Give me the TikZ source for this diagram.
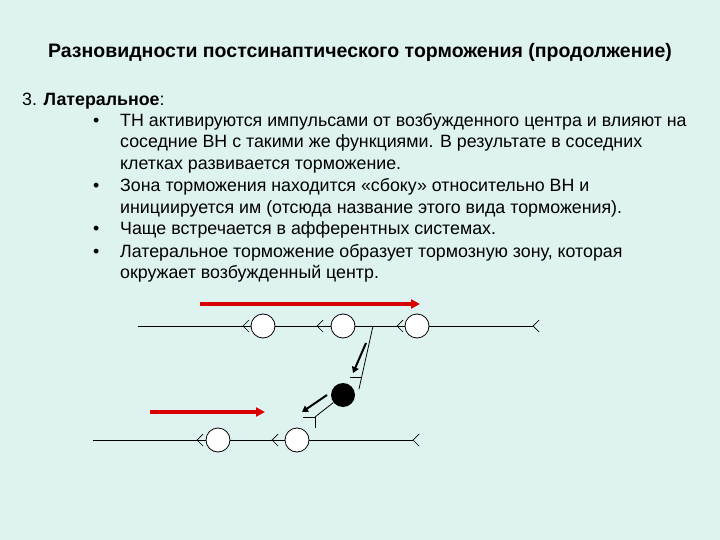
\documentclass[tikz,border=0pt]{standalone}
\usepackage{fontspec}
\setmainfont{Liberation Sans}
\usetikzlibrary{arrows.meta}
\begin{document}
\begin{tikzpicture}[x=1pt,y=-1pt,
  line/.style={black,line width=0.8pt},
  cell/.style={circle,draw=black,fill=white,minimum size=24pt,inner sep=0pt,line width=0.8pt},
  fork/.style={line width=0.7pt},
  redarr/.style={red!85!black,line width=3.5pt,-{Triangle[length=9pt,width=9pt]}},
  blkarr/.style={black,line width=2pt,-{Triangle[length=6pt,width=7pt]}},
  txt/.style={anchor=base west,inner sep=0pt,font=\fontsize{17.8}{20}\selectfont}]
\fill[fill={rgb,255:red,222;green,242;blue,240}] (0,0) rectangle (720,540);
\node[anchor=base,inner sep=0pt,font=\bfseries\fontsize{19.5}{22}\selectfont] (title) at (360,58) {Разновидности постсинаптического торможения (продолжение)};
\node[txt] (h) at (22,106) {3. \textbf{Латеральное}:};
\node[txt] (b1) at (93,127) {•};
\node[txt] (t1) at (120,127) {ТН активируются импульсами от возбужденного центра и влияют на};
\node[txt] (t1b) at (120,148) {соседние ВН с такими же функциями. В результате в соседних};
\node[txt] (t1c) at (120,170) {клетках развивается торможение.};
\node[txt] (b2) at (93,192) {•};
\node[txt] (t2) at (120,192) {Зона торможения находится «сбоку» относительно ВН и};
\node[txt] (t2b) at (120,214) {инициируется им (отсюда название этого вида торможения).};
\node[txt] (b3) at (93,235) {•};
\node[txt] (t3) at (120,235) {Чаще встречается в афферентных системах.};
\node[txt] (b4) at (93,257) {•};
\node[txt] (t4) at (120,257) {Латеральное торможение образует тормозную зону, которая};
\node[txt] (t4b) at (120,278) {окружает возбужденный центр.};
% top row
\coordinate (ts) at (138,326); \coordinate (te) at (533,326);
\draw[line] (ts) -- (te);
\node[cell] (c1) at (263,326) {};
\node[cell] (c2) at (343,326) {};
\node[cell] (c3) at (417,326) {};
\foreach \x in {243,317,397,533} \draw[fork] (\x+6,320) -- (\x,326) -- (\x+6,332);
% bottom row
\coordinate (bs) at (93,440); \coordinate (be) at (413,440);
\draw[line] (bs) -- (be);
\node[cell] (d1) at (218,440) {};
\node[cell] (d2) at (297,440) {};
\foreach \x in {197,272,413} \draw[fork] (\x+6,434) -- (\x,440) -- (\x+6,446);
% inhibitory neuron
\node[circle,fill=black,minimum size=24pt,inner sep=0pt] (inh) at (343,395) {};
\coordinate (ax1) at (373,326); \coordinate (ax2) at (359,389);
\draw[line] (ax1) -- (ax2);
\draw[line] (350,377) -- (361,377);
\coordinate (ax3) at (315,417);
\draw[line] (inh) -- (ax3);
\draw[line] (303,417) -- (316,417) (315,417) -- (315,428);
% arrows
\coordinate (r1s) at (200,304); \coordinate (r1e) at (420,304);
\draw[redarr] (r1s) -- (r1e);
\coordinate (r2s) at (150,412); \coordinate (r2e) at (265,412);
\draw[redarr] (r2s) -- (r2e);
\coordinate (k1s) at (366,343); \coordinate (k1e) at (353,373);
\draw[blkarr] (k1s) -- (k1e);
\coordinate (k2s) at (327,395); \coordinate (k2e) at (302,412);
\draw[blkarr] (k2s) -- (k2e);
\end{tikzpicture}
\end{document}
